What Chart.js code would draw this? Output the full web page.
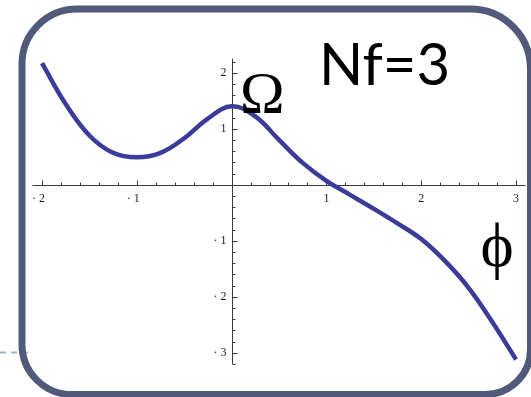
<!DOCTYPE html>
<html>
<head>
<meta charset="utf-8">
<script src="https://cdn.jsdelivr.net/npm/chart.js"></script>
<style>
  html, body { margin: 0; padding: 0; background: #fff; }
  #wrap { width: 531px; height: 397px; }
</style>
</head>
<body>
<div id="wrap"><canvas id="omegaChart" width="531" height="397"></canvas></div>
<script>
// potential Omega(phi) for Nf = 3
var phi   = [-2, -1.75, -1.5, -1.25, -1, -0.75, -0.5, -0.25, 0, 0.25, 0.5, 0.75, 1, 1.25, 1.5, 1.75, 2, 2.25, 2.5, 2.75, 3];
var omega = [2.17, 1.44, 0.88, 0.57, 0.49, 0.57, 0.83, 1.18, 1.40, 1.22, 0.80, 0.39, 0.07, -0.18, -0.43, -0.69, -0.97, -1.36, -1.84, -2.45, -3.12];

var xTickValues = [-2, -1, 1, 2, 3];
var xTickLabels = ['\u00b7 2', '\u00b7 1', '1', '2', '3'];
var yTickValues = [-3, -2, -1, 1, 2];
var yTickLabels = ['\u00b7 3', '\u00b7 2', '\u00b7 1', '1', '2'];

var titleText = 'Nf=3';
var yName = '\u03a9';
var xName = '\u03d5';

var points = phi.map(function (x, i) { return { x: x, y: omega[i] }; });

// rounded slide frame + the dashed stub on the left
var framePlugin = {
  id: 'frame',
  beforeDraw: function (chart) {
    var c = chart.ctx;
    c.save();
    c.strokeStyle = '#9fb3cd';
    c.lineWidth = 2;
    c.setLineDash([6, 5]);
    c.beginPath();
    c.moveTo(0, 352.5);
    c.lineTo(28, 352.5);
    c.stroke();
    c.setLineDash([]);
    c.strokeStyle = '#515a7a';
    c.lineWidth = 7;
    c.beginPath();
    c.roundRect(22, 9, 508.5, 385.5, [55, 60, 45, 50]);
    c.stroke();
    c.restore();
  }
};

// Mathematica style axes through the origin with minor ticks
var axesPlugin = {
  id: 'axes',
  beforeDatasetsDraw: function (chart) {
    var c = chart.ctx, xs = chart.scales.x, ys = chart.scales.y;
    var x0 = Math.round(xs.getPixelForValue(0)) + 0.5;
    var y0 = Math.round(ys.getPixelForValue(0)) + 0.5;
    c.save();
    c.strokeStyle = '#3a3a3a';
    c.lineWidth = 1;
    c.beginPath();
    c.moveTo(chart.chartArea.left, y0);
    c.lineTo(chart.chartArea.right, y0);
    c.moveTo(x0, chart.chartArea.top);
    c.lineTo(x0, chart.chartArea.bottom);
    var i, v, p;
    for (i = -10; i <= 15; i++) {
      if (i === 0) continue;
      v = i / 5;
      p = Math.round(xs.getPixelForValue(v)) + 0.5;
      c.moveTo(p, y0);
      c.lineTo(p, y0 - (i % 5 === 0 ? 5 : 3));
    }
    for (i = -16; i <= 11; i++) {
      if (i === 0) continue;
      v = i / 5;
      p = Math.round(ys.getPixelForValue(v)) + 0.5;
      c.moveTo(x0, p);
      c.lineTo(x0 + (i % 5 === 0 ? 5 : 3), p);
    }
    c.stroke();

    c.fillStyle = '#1a1a1a';
    c.font = '12px "Liberation Serif", serif';
    c.textAlign = 'right';
    c.textBaseline = 'middle';
    xTickValues.forEach(function (t, k) {
      c.fillText(xTickLabels[k], xs.getPixelForValue(t) + 3, y0 + 13);
    });
    yTickValues.forEach(function (t, k) {
      c.fillText(yTickLabels[k], x0 - 6, ys.getPixelForValue(t));
    });
    c.restore();
  }
};

var labelPlugin = {
  id: 'labels',
  afterDraw: function (chart) {
    var c = chart.ctx;
    c.save();
    c.fillStyle = '#000';
    c.textAlign = 'left';
    c.textBaseline = 'alphabetic';
    c.font = '60px "Liberation Serif", serif';
    c.fillText(yName, 240, 112.5);
    c.font = '58px Lato, sans-serif';
    c.fillText(titleText, 319, 85);
    c.textAlign = 'center';
    c.font = '63px "Liberation Serif", serif';
    c.fillText(xName, 497, 266);
    c.restore();
  }
};

var ctx = document.getElementById('omegaChart').getContext('2d');
var chart = new Chart(ctx, {
  type: 'line',
  data: {
    datasets: [{
      data: points,
      borderColor: '#3b3b99',
      borderWidth: 4.5,
      pointRadius: 0,
      tension: 0.4,
      fill: false,
      clip: false
    }]
  },
  options: {
    responsive: false,
    animation: false,
    devicePixelRatio: 1,
    layout: { padding: { left: 32.5, right: 5.5, top: 58.7, bottom: 33 } },
    plugins: { legend: { display: false }, tooltip: { enabled: false } },
    scales: {
      x: { type: 'linear', min: -2.1, max: 3.1, display: false },
      y: { type: 'linear', min: -3.2, max: 2.25, display: false }
    }
  },
  plugins: [framePlugin, axesPlugin, labelPlugin]
});
</script>
</body>
</html>
